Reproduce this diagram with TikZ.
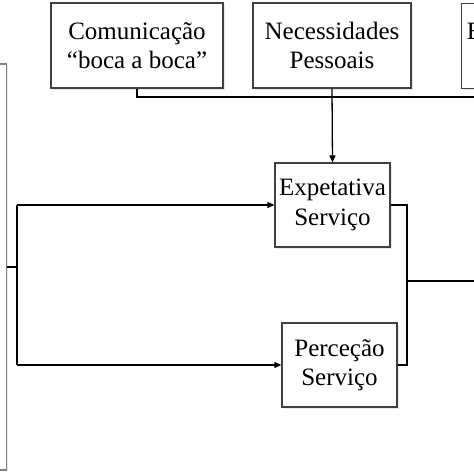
\documentclass[tikz,border=0pt]{standalone}
\usepackage{fontspec}
\setmainfont{Liberation Serif}
\usetikzlibrary{arrows.meta,shadows}
\begin{document}
\begin{tikzpicture}[x=1pt,y=-1pt,
  box/.style={draw=black!75, line width=1.2pt, fill=white, inner sep=0pt, align=center,
    font=\fontsize{25}{29.5}\selectfont,
    drop shadow={opacity=0.18, shadow xshift=1.5pt, shadow yshift=-1.5pt}},
  conn/.style={draw=black, line width=1.3pt},
  arr/.style={conn, -{Triangle[length=7pt,width=6pt]}}]
\useasboundingbox (0,0) rectangle (474,474);
\clip (0,0) rectangle (474,474);
% left box (mostly outside)
\node[box, draw=black!50, line width=1.5pt, minimum width=40pt, minimum height=406pt, anchor=north east] (lb) at (7,63) {};
% top boxes
\node[box, minimum width=172pt, minimum height=85pt] (com) at (137,45.5) {Comunicação\\“boca a boca”};
\node[box, minimum width=158pt, minimum height=85pt] (nec) at (332,45.5) {Necessidades\\Pessoais};
\node[box, minimum width=130pt, minimum height=85pt, anchor=north west] (exp) at (461,3) {Experiência\\Passada};
% middle boxes
\node[box, minimum width=115pt, minimum height=84pt] (es) at (332.5,205) {Expetativa\\Serviço};
\node[box, minimum width=115pt, minimum height=84pt] (ps) at (339.5,365) {Perceção\\Serviço};
% coordinates
\coordinate (c1) at (137,97);
\coordinate (cr) at (474,97);
\coordinate (lj) at (17,267);
\coordinate (lt) at (17,205);
\coordinate (lbm) at (17,365);
\coordinate (rt) at (407,205);
\coordinate (rb) at (407,365);
\coordinate (rj) at (407,281);
\coordinate (rout) at (474,281);
% connectors
\draw[conn] (com.south) -- (c1) -- (cr);
\draw[arr] (nec.south) -- (es.north);
\draw[conn] (lb.east |- lj) -- (lj);
\draw[conn] (lt) -- (lbm);
\draw[arr] (lt) -- (es.west |- lt);
\draw[arr] (lbm) -- (ps.west |- lbm);
\draw[conn] (es.east |- rt) -- (rt) -- (rb) -- (ps.east |- rb);
\draw[conn] (rj) -- (rout);
\end{tikzpicture}
\end{document}
